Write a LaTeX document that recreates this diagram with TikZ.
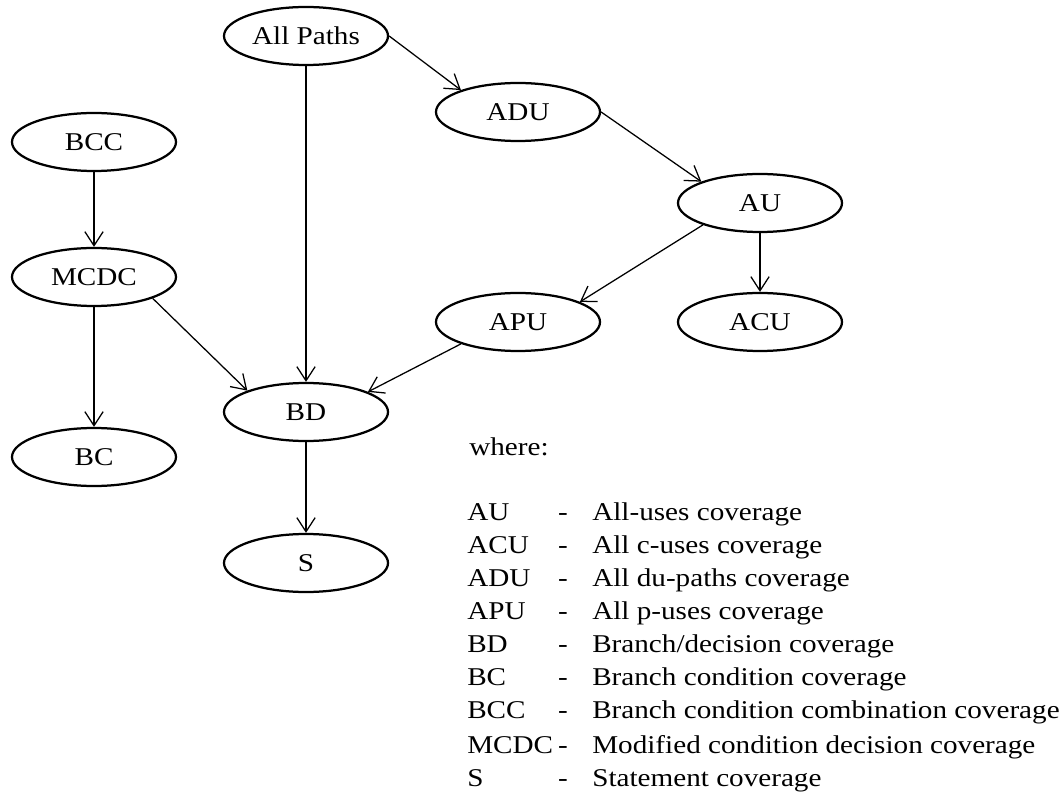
\documentclass[tikz,border=0pt]{standalone}
\usepackage{fontspec}
\setmainfont{Liberation Serif}[FakeStretch=1.14]
\usetikzlibrary{shapes.geometric,arrows.meta}
\tikzset{
  crit/.style={ellipse,draw,line width=1.6pt,minimum width=4.1cm,minimum height=1.45cm,inner sep=0},
  subsumes/.style={-{Straight Barb[length=10pt,width=13pt]},line width=0.9pt},
  legend/.style={inner sep=0,anchor=base west}
}
\begin{document}
\begin{tikzpicture}[x=0.25mm,y=-0.25mm,font=\fontsize{18.2}{21}\selectfont]
      \useasboundingbox (0,0) rectangle (1063,795);
      % coverage criteria
      \node[crit] (allpaths) at (306,36) {All Paths};
      \node[crit] (adu) at (518,112) {ADU};
      \node[crit] (bcc) at (94,142) {BCC};
      \node[crit] (au) at (760,203) {AU};
      \node[crit] (mcdc) at (94,277) {MCDC};
      \node[crit] (apu) at (518,322) {APU};
      \node[crit] (acu) at (760,322) {ACU};
      \node[crit] (bd) at (306,412) {BD};
      \node[crit] (bc) at (94,457) {BC};
      \node[crit] (s) at (306,563) {S};
      \draw[subsumes] (allpaths) -- (bd);
      \draw[subsumes] (allpaths.east) -- (adu.159);
      \draw[subsumes] (adu.east) -- (au.160);
      \draw[subsumes] (au.201) -- (apu.18);
      \draw[subsumes] (au) -- (acu);
      \draw[subsumes] (bcc) -- (mcdc);
      \draw[subsumes] (mcdc) -- (bc);
      \draw[subsumes] (mcdc.-20) -- (bd.160);
      \draw[subsumes] (apu.201) -- (bd.18);
      \draw[subsumes] (bd) -- (s);
      % key
      \node[legend] (where) at (469,455) {where:};
      \foreach \abbr/\desc/\y [count=\i] in {AU/All-uses coverage/520,ACU/All c-uses coverage/553,
          ADU/All du-paths coverage/586,APU/All p-uses coverage/619,BD/{Branch/decision coverage}/652,
          BC/Branch condition coverage/685,BCC/Branch condition combination coverage/718,
          MCDC/Modified condition decision coverage/753,S/Statement coverage/786}
        {
          \node[legend] (abbr\i) at (467,\y) {\abbr};
          \node[inner sep=0,anchor=base] (sep\i) at (563,\y) {-};
          \node[legend] (desc\i) at (592,\y) {\desc};
        }
\end{tikzpicture}
\end{document}
